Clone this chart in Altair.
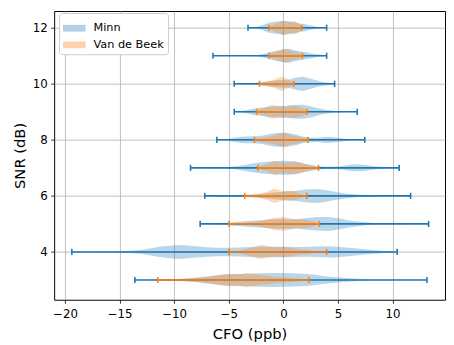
import altair as alt
import pandas as pd

# ---------------- data ----------------
SNR = [3, 4, 5, 6, 7, 8, 9, 10, 11, 12]

MINN_MIN = [-13.6, -19.37, -7.62, -7.2, -8.5, -6.09, -4.5, -4.5, -6.45, -3.24]
MINN_MAX = [13.15, 10.42, 13.3, 11.65, 10.6, 7.45, 6.76, 4.69, 3.96, 3.96]
VDB_MIN = [-11.5, -4.98, -4.98, -3.54, -2.34, -2.64, -2.46, -2.19, -1.29, -1.32]
VDB_MAX = [2.34, 3.96, 3.3, 2.13, 3.21, 2.25, 2.16, 0.96, 1.74, 1.68]

# violin outlines: (CFO value, relative density 0..1)
MINN_SHAPE = {
    3: [(-13.6, 0.02), (-11, 0.05), (-9, 0.2), (-7, 0.5), (-5, 0.8), (-3, 0.9), (-1, 1.0),
        (1, 0.95), (2.5, 0.8), (4, 0.5), (5.5, 0.3), (7, 0.15), (9, 0.05), (13.15, 0.01)],
    4: [(-19.37, 0.01), (-16, 0.05), (-13, 0.3), (-11, 0.8), (-9.5, 1.0), (-8, 0.8), (-6, 0.6),
        (-4, 0.65), (-2, 0.75), (0, 0.75), (2, 0.7), (4, 0.8), (6, 0.6), (8, 0.3), (9.5, 0.1),
        (10.42, 0.03)],
    5: [(-7.62, 0.02), (-6, 0.1), (-4, 0.35), (-2, 0.55), (-1, 0.65), (0, 0.7), (1, 0.65),
        (2, 0.8), (3, 0.95), (4, 1.0), (5, 0.8), (6, 0.5), (7, 0.3), (8.5, 0.1), (10, 0.04),
        (13.3, 0.01)],
    6: [(-7.2, 0.02), (-5, 0.1), (-3, 0.2), (-2, 0.3), (-1, 0.45), (0, 0.6), (1, 0.7), (2, 0.9),
        (3, 1.0), (4, 0.8), (5, 0.5), (6, 0.3), (7, 0.15), (8.5, 0.05), (11.65, 0.02)],
    7: [(-8.5, 0.01), (-6, 0.05), (-4.5, 0.2), (-3, 0.6), (-2, 0.8), (-1, 0.9), (0, 1.0),
        (1, 0.9), (2, 0.6), (3, 0.3), (4, 0.15), (5, 0.2), (6.5, 0.5), (7.5, 0.4), (8.5, 0.2),
        (10.6, 0.02)],
    8: [(-6.09, 0.02), (-5, 0.15), (-4, 0.4), (-3, 0.5), (-2, 0.6), (-1, 0.9), (0, 1.0),
        (1, 0.8), (2, 0.4), (3, 0.3), (4, 0.45), (5, 0.3), (6, 0.1), (7.45, 0.02)],
    9: [(-4.5, 0.05), (-3.5, 0.2), (-2.5, 0.5), (-1.5, 0.7), (-0.5, 0.8), (0.5, 0.9), (1.5, 1.0),
        (2.5, 0.8), (3.5, 0.4), (4.5, 0.15), (5.5, 0.05), (6.76, 0.02)],
    10: [(-4.5, 0.05), (-3.5, 0.1), (-2.5, 0.15), (-1.5, 0.35), (-0.5, 0.5), (0.5, 0.6),
         (1.2, 0.9), (1.7, 1.0), (2.5, 0.7), (3.5, 0.3), (4.69, 0.05)],
    11: [(-6.45, 0.01), (-4, 0.02), (-3, 0.05), (-2, 0.2), (-1, 0.6), (0, 0.9), (0.5, 1.0),
         (1, 0.8), (2, 0.5), (3, 0.2), (3.96, 0.05)],
    12: [(-3.24, 0.02), (-2.5, 0.1), (-2, 0.3), (-1.5, 0.6), (-1, 0.8), (-0.5, 0.9), (0, 1.0),
         (0.5, 0.9), (1, 0.8), (1.5, 0.6), (2, 0.5), (2.5, 0.3), (3, 0.15), (3.5, 0.05),
         (3.96, 0.02)],
}
VDB_SHAPE = {
    3: [(-11.5, 0.03), (-9.5, 0.1), (-8, 0.25), (-6.5, 0.55), (-5, 0.9), (-4, 0.85), (-3.3, 1.0),
        (-2, 0.7), (-1, 0.5), (0, 0.4), (1, 0.25), (2.34, 0.1)],
    4: [(-4.98, 0.05), (-4, 0.2), (-3, 0.6), (-2, 1.0), (-1, 0.7), (0, 0.75), (1, 0.5), (2, 0.3),
        (3, 0.15), (3.96, 0.05)],
    5: [(-4.98, 0.05), (-3.5, 0.15), (-2, 0.4), (-1, 0.8), (0, 1.0), (1, 0.7), (2, 0.6),
        (2.6, 0.4), (3.3, 0.1)],
    6: [(-3.54, 0.05), (-2.5, 0.2), (-1.5, 0.6), (-0.8, 1.0), (0, 0.7), (0.8, 0.7), (1.5, 0.3),
        (2.13, 0.1)],
    7: [(-2.34, 0.15), (-1.5, 0.5), (-0.8, 1.0), (0, 0.7), (1, 0.9), (2, 0.5), (3.21, 0.1)],
    8: [(-2.64, 0.15), (-2, 0.3), (-1, 0.6), (-0.3, 0.9), (0.1, 1.0), (0.6, 0.7), (1.3, 0.5),
        (2.25, 0.2)],
    9: [(-2.46, 0.2), (-1.8, 0.5), (-1, 1.0), (-0.4, 0.8), (0.2, 0.7), (0.8, 0.9), (1.5, 0.7),
        (2.16, 0.3)],
    10: [(-2.19, 0.1), (-1.5, 0.3), (-1, 0.5), (-0.5, 0.8), (-0.1, 1.0), (0.4, 0.6), (0.96, 0.2)],
    11: [(-1.29, 0.2), (-0.8, 0.5), (-0.3, 0.8), (0.2, 1.0), (0.7, 0.7), (1.2, 0.5), (1.74, 0.2)],
    12: [(-1.32, 0.1), (-1, 0.4), (-0.5, 0.7), (0, 1.0), (0.5, 0.8), (1, 0.9), (1.3, 0.7),
         (1.68, 0.2)],
}

SERIES = ["Minn", "Van de Beek"]
COLORS = ["#1f77b4", "#ff7f0e"]
X_TICKS = [-20, -15, -10, -5, 0, 5, 10]
Y_TICKS = [4, 6, 8, 10, 12]

# ---------------- tables ----------------
HALF = 0.25   # violin half width (SNR units)
CAP = 0.11    # half length of extrema caps

shape_rows = []
for name, shapes in zip(SERIES, (MINN_SHAPE, VDB_SHAPE)):
    for snr, pts in shapes.items():
        for c, d in pts:
            shape_rows.append({"series": name, "snr": snr, "cfo": c, "dens": d})
shape_df = pd.DataFrame(shape_rows)

ext_rows, cap_rows = [], []
for name, mins, maxs in zip(SERIES, (MINN_MIN, VDB_MIN), (MINN_MAX, VDB_MAX)):
    for s, lo, hi in zip(SNR, mins, maxs):
        ext_rows.append({"series": name, "snr": s, "lo": lo, "hi": hi})
        cap_rows.append({"series": name, "snr": s, "cfo": lo})
        cap_rows.append({"series": name, "snr": s, "cfo": hi})
ext_df = pd.DataFrame(ext_rows)
cap_df = pd.DataFrame(cap_rows)

FONT = "DejaVu Sans"
xs = alt.Scale(domain=[-20.99, 14.80], nice=False, zero=False)
ys = alt.Scale(domain=[2.294, 12.596], nice=False, zero=False)
xaxis = alt.Axis(title="CFO (ppb)", values=X_TICKS, labelPadding=5.5, titlePadding=7)
yaxis = alt.Axis(title="SNR (dB)", values=Y_TICKS, labelPadding=3.5, titlePadding=5)

legend = alt.Legend(
    title=None, orient="none", legendX=5, legendY=2,
    fillColor="white", strokeColor="#cccccc", cornerRadius=3, padding=4,
    symbolType="M-1,-0.3L1,-0.3L1,0.3L-1,0.3Z", symbolSize=529,
    symbolStrokeWidth=0, symbolOpacity=0.35,
    labelFont=FONT, labelFontSize=11.5, labelOffset=8, rowPadding=-9.5,
)
color = alt.Color("series:N", scale=alt.Scale(domain=SERIES, range=COLORS), legend=legend)


def body(name):
    return (
        alt.Chart(shape_df)
        .transform_filter(alt.datum.series == name)
        .transform_calculate(lo=f"datum.snr - {HALF} * datum.dens",
                             hi=f"datum.snr + {HALF} * datum.dens")
        .mark_area(opacity=0.3, interpolate="monotone", orient="vertical")
        .encode(
            x=alt.X("cfo:Q", scale=xs, axis=xaxis),
            y=alt.Y("lo:Q", scale=ys, axis=yaxis, stack=None),
            y2="hi:Q",
            color=color,
            detail="snr:N",
        )
    )


def lines(name, col):
    main = (
        alt.Chart(ext_df)
        .transform_filter(alt.datum.series == name)
        .mark_rule(strokeWidth=1.6, color=col)
        .encode(
            x=alt.X("lo:Q", scale=xs, axis=xaxis),
            x2="hi:Q",
            y=alt.Y("snr:Q", scale=ys, axis=yaxis),
        )
    )
    caps = (
        alt.Chart(cap_df)
        .transform_filter(alt.datum.series == name)
        .transform_calculate(c0=f"datum.snr - {CAP}", c1=f"datum.snr + {CAP}")
        .mark_rule(strokeWidth=1.6, color=col)
        .encode(
            x=alt.X("cfo:Q", scale=xs, axis=xaxis),
            y=alt.Y("c0:Q", scale=ys, axis=yaxis),
            y2="c1:Q",
        )
    )
    return main + caps


chart = (
    alt.layer(body("Minn"), lines("Minn", COLORS[0]),
              body("Van de Beek"), lines("Van de Beek", COLORS[1]))
    .properties(
        width=398, height=294,
        autosize=alt.AutoSizeParams(type="none"),
        padding={"left": 47, "top": 0, "right": 1, "bottom": 43},
    )
    .configure_view(stroke="black", strokeWidth=1)
    .configure_axis(
        domain=False, grid=True, gridColor="#b0b0b0", gridWidth=0.8,
        tickColor="black", tickSize=3.5, tickWidth=0.8,
        labelFont=FONT, labelFontSize=12, labelColor="black",
        titleFont=FONT, titleFontSize=15, titleFontWeight="normal", titleColor="black",
    )
)

chart.save("out.html", embed_options={"renderer": "svg", "actions": False})
